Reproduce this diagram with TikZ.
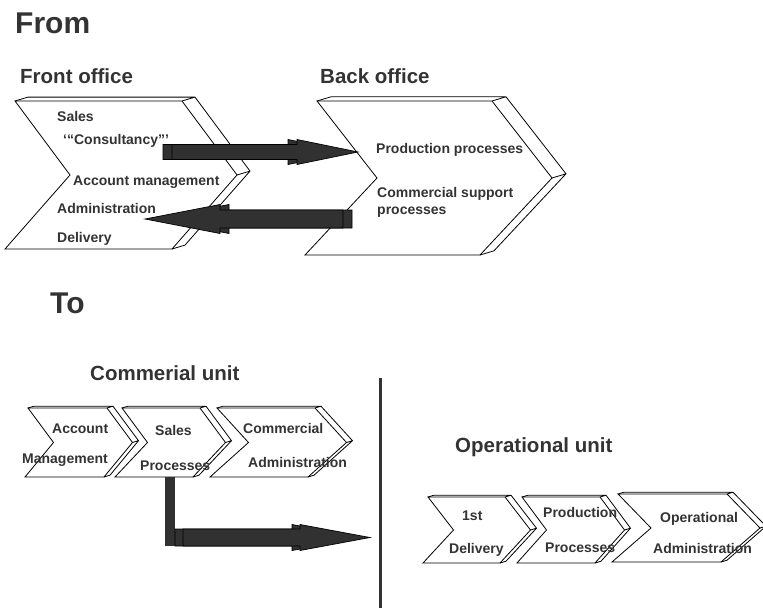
\documentclass[tikz,border=0pt]{standalone}
\usepackage{fontspec}
\setmainfont{Liberation Sans}
\usepackage{tikz}
\usetikzlibrary{calc}
\definecolor{textgray}{HTML}{333333}
\definecolor{arrowgray}{HTML}{313131}

\tikzset{
  lbl/.style={anchor=base west,inner sep=0pt,text=textgray,font=\bfseries\fontsize{14}{16}\selectfont},
  head/.style={lbl,font=\bfseries\fontsize{20.5}{24}\selectfont},
  bigtitle/.style={lbl,font=\bfseries\fontsize{30}{34}\selectfont},
  chevline/.style={draw=black,line width=0.8pt,line join=miter},
  arrowface/.style={draw=black,fill=arrowgray,line width=0.7pt}
}

% 3d chevron: left x, top y, width, height, point depth, skew, extrusion
\newcommand{\chevron}[7]{%
  \coordinate (F1) at (#1,#2);
  \coordinate (F2) at ({#1+#3},#2);
  \coordinate (F3) at ({#1+#3+#5-#6/2},{#2+#4/2});
  \coordinate (F4) at ({#1+#3-#6},{#2+#4});
  \coordinate (F5) at ({#1-#6},{#2+#4});
  \coordinate (F6) at ({#1+#5-#6/2},{#2+#4/2});
  \coordinate (B1) at ($(F1)+(#7,{-0.3*#7})$);
  \coordinate (B2) at ($(F2)+(#7,{-0.3*#7})$);
  \coordinate (B3) at ($(F3)+(#7,{-0.3*#7})$);
  \coordinate (B4) at ($(F4)+(#7,{-0.3*#7})$);
  \fill[white] (F1) -- (B1) -- (B2) -- (B3) -- (B4) -- (F4) -- (F5) -- (F6) -- cycle;
  \draw[chevline] (F1) -- (B1) -- (B2) -- (B3) -- (B4) -- (F4) (F2) -- (B2) (F3) -- (B3);
  \draw[chevline] (F1) -- (F2) -- (F3) -- (F4) -- (F5) -- (F6) -- cycle;
}

% 3d block arrow: tail x, head base x, tip x, centre y, half shaft, half head, depth
\newcommand{\blockarrow}[7]{%
  \draw[arrowface] ({#1+#7},{#4-#5}) -- ({#2+#7},{#4-#5}) -- ({#2+#7},{#4-#6}) -- ({#3+#7},#4)
    -- ({#2+#7},{#4+#6}) -- ({#2+#7},{#4+#5}) -- ({#1+#7},{#4+#5}) -- cycle;
  \draw[arrowface] (#1,{#4-#5}) -- (#2,{#4-#5}) -- (#2,{#4-#6}) -- (#3,#4)
    -- (#2,{#4+#6}) -- (#2,{#4+#5}) -- (#1,{#4+#5}) -- cycle;
}

\begin{document}
\begin{tikzpicture}[x=1pt,y=-1pt]
\useasboundingbox (0,0) rectangle (763,608);

% from
\node[bigtitle] (from) at (15,33) {From};
\node[head] (frontTitle) at (20,83) {Front office};
\node[head] (backTitle) at (320,83) {Back office};

\chevron{15}{101}{167}{148}{60}{10}{13}
\chevron{317}{101}{175}{154}{66}{12}{14}

\blockarrow{172}{297}{358}{152}{7.5}{12.5}{-9}
\blockarrow{343}{220}{145}{219}{9}{14.5}{9}

\node[lbl] (sales) at (57,121) {Sales};
\node[lbl] (consult) at (63,144) {‘“Consultancy”’};
\node[lbl] (accMgmt) at (73,185) {Account management};
\node[lbl] (admin) at (57,213) {Administration};
\node[lbl] (delivery) at (57,242) {Delivery};
\node[lbl] (prodProc) at (376,153) {Production processes};
\node[lbl] (commSupp) at (377,197) {Commercial support};
\node[lbl] (commProc) at (377,214) {processes};

% to
\node[bigtitle] (to) at (50,313) {To};
\node[head] (commUnit) at (90,380) {Commerial unit};
\node[head] (opUnit) at (455,452) {Operational unit};

\draw[textgray,line width=3pt] (380,378) -- (380,608);

\chevron{28}{408}{79}{69}{27}{3}{6}
\chevron{122}{408}{78}{69}{29}{7}{6}
\chevron{217}{408}{98}{69}{35}{7}{6}

\chevron{428}{497}{77}{66}{28}{5}{6}
\chevron{522}{497}{78}{66}{27}{5}{6}
\chevron{618}{494}{109}{68}{36}{6}{6}

\fill[arrowgray] (165,477) rectangle (175,546);
\blockarrow{183}{300}{370}{537.5}{8.5}{13}{-8}

\node[lbl] (account) at (52,433) {Account};
\node[lbl] (management) at (22,463) {Management};
\node[lbl] (salesB) at (155,435) {Sales};
\node[lbl] (processesA) at (140,470) {Processes};
\node[lbl] (commercial) at (243,433) {Commercial};
\node[lbl] (adminA) at (248,467) {Administration};
\node[lbl] (first) at (462,520) {1st};
\node[lbl] (deliveryB) at (449,553) {Delivery};
\node[lbl] (production) at (543,517) {Production};
\node[lbl] (processesB) at (545,552) {Processes};
\node[lbl] (operational) at (660,522) {Operational};
\node[lbl] (adminB) at (653,553) {Administration};
\end{tikzpicture}
\end{document}
